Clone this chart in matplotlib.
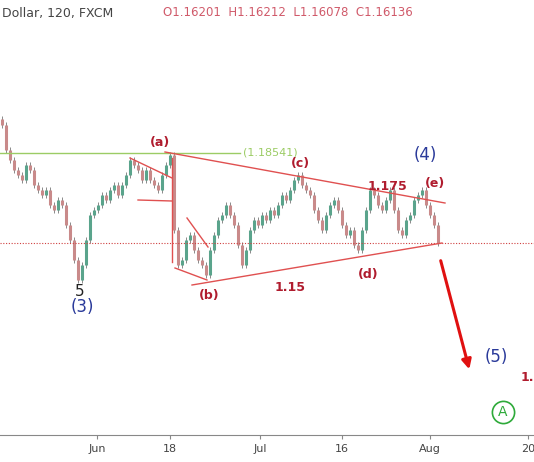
import numpy as np
import matplotlib.pyplot as plt

# 2h candles, closes (x is the screen column)
bar_x = list(range(2, 442, 4))
closes = [1.1929, 1.1862, 1.1836, 1.1809, 1.1796, 1.1782, 1.1822, 1.1809, 1.1769, 1.1755,
          1.1742, 1.1755, 1.1715, 1.1702, 1.1729, 1.1715, 1.1662, 1.1622, 1.1569, 1.1515,
          1.1555, 1.1622, 1.1689, 1.1702, 1.1715, 1.1742, 1.1729, 1.1755, 1.1769, 1.1742,
          1.1769, 1.1796, 1.1836, 1.1822, 1.1809, 1.1782, 1.1809, 1.1782, 1.1769, 1.1755,
          1.1796, 1.1822, 1.1849, 1.1649, 1.1555, 1.1569, 1.1622, 1.1635, 1.1595, 1.1569,
          1.1555, 1.1529, 1.1595, 1.1635, 1.1675, 1.1689, 1.1715, 1.1689, 1.1662, 1.1609,
          1.1555, 1.1595, 1.1649, 1.1675, 1.1662, 1.1689, 1.1675, 1.1702, 1.1689, 1.1715,
          1.1742, 1.1729, 1.1755, 1.1782, 1.1796, 1.1769, 1.1755, 1.1742, 1.1702, 1.1675,
          1.1649, 1.1689, 1.1715, 1.1729, 1.1702, 1.1662, 1.1635, 1.1649, 1.1609, 1.1595,
          1.1649, 1.1702, 1.1755, 1.1742, 1.1715, 1.1702, 1.1729, 1.1755, 1.1702, 1.1649,
          1.1635, 1.1675, 1.1689, 1.1729, 1.1742, 1.1755, 1.1715, 1.1689, 1.1662, 1.1614]
last_close = 1.16136
level = 1.18541
tick_pos = [97, 170, 260, 342, 430, 528]
tick_labels = ['Jun', '18', 'Jul', '16', 'Aug', '20']

def py(y):
    # screen row -> price
    return last_close + (243 - y) * 0.000267

fig = plt.figure(figsize=(5.34, 4.62), dpi=100)
ax = fig.add_axes([0, 27 / 462, 1, 417 / 462])
ax.set_xlim(0, 534)
ax.set_ylim(py(435), py(18))

opens = [closes[0] + 0.0015] + closes[:-1]
for x, o, c in zip(bar_x, opens, closes):
    col = '#5aa48c' if c >= o else '#c98a8a'
    ax.vlines(x, min(o, c) - 0.0008, max(o, c) + 0.0008, color='#777777', lw=0.6)
    ax.vlines(x, min(o, c), max(o, c), color=col, lw=2.2)

ax.axhline(last_close, color='#d04040', lw=0.8, ls=(0, (1, 1.5)))
ax.plot([0, 240], [level, level], color='#9ccc65', lw=1)
ax.text(243, level, '(1.18541)', color='#9ccc65', fontsize=8, va='center')

red = '#e05050'
segs = [((165, 152), (445, 203)), ((192, 285), (442, 243)), ((130, 158), (172, 178)),
        ((138, 200), (172, 201)), ((172, 158), (172, 262)), ((175, 268), (207, 280)),
        ((187, 218), (208, 247))]
for (x0, y0), (x1, y1) in segs:
    ax.plot([x0, x1], [py(y0), py(y1)], color=red, lw=1)
ax.annotate('', xy=(470, py(372)), xytext=(440, py(258)),
            arrowprops=dict(arrowstyle='-|>', color='#e01010', lw=2.2, mutation_scale=14))

dark = '#b01c2e'
for s, x, y in [('(a)', 160, 142), ('(c)', 300, 163), ('1.175', 387, 187), ('(e)', 435, 183),
                ('(b)', 209, 296), ('1.15', 290, 287), ('(d)', 368, 274), ('1.', 527, 377)]:
    ax.text(x, py(y), s, color=dark, fontsize=9, fontweight='bold', ha='center', va='center')
blue = '#2a3a9a'
for s, x, y in [('(4)', 425, 155), ('(3)', 82, 307), ('(5)', 496, 357)]:
    ax.text(x, py(y), s, color=blue, fontsize=12, ha='center', va='center')
ax.text(80, py(291), '5', color='#222222', fontsize=11, ha='center', va='center')
ax.plot(503, py(412), 'o', ms=16, mfc='none', mec='#2eaa3a', mew=1.2)
ax.text(503, py(412), 'A', color='#2eaa3a', fontsize=10, ha='center', va='center')

fig.text(2 / 534, 1 - 13 / 462, 'Dollar, 120, FXCM', color='#444444', fontsize=9, va='center')
fig.text(163 / 534, 1 - 13 / 462, 'O1.16201  H1.16212  L1.16078  C1.16136',
         color='#d05a6a', fontsize=8.5, va='center')

for side in ['top', 'right', 'left']:
    ax.spines[side].set_visible(False)
ax.spines['bottom'].set_color('#888888')
ax.set_yticks([])
ax.set_xticks(tick_pos)
ax.set_xticklabels(tick_labels, fontsize=8, color='#444444')
ax.tick_params(axis='x', length=3, color='#888888')
fig.savefig('out.png', dpi=100)
